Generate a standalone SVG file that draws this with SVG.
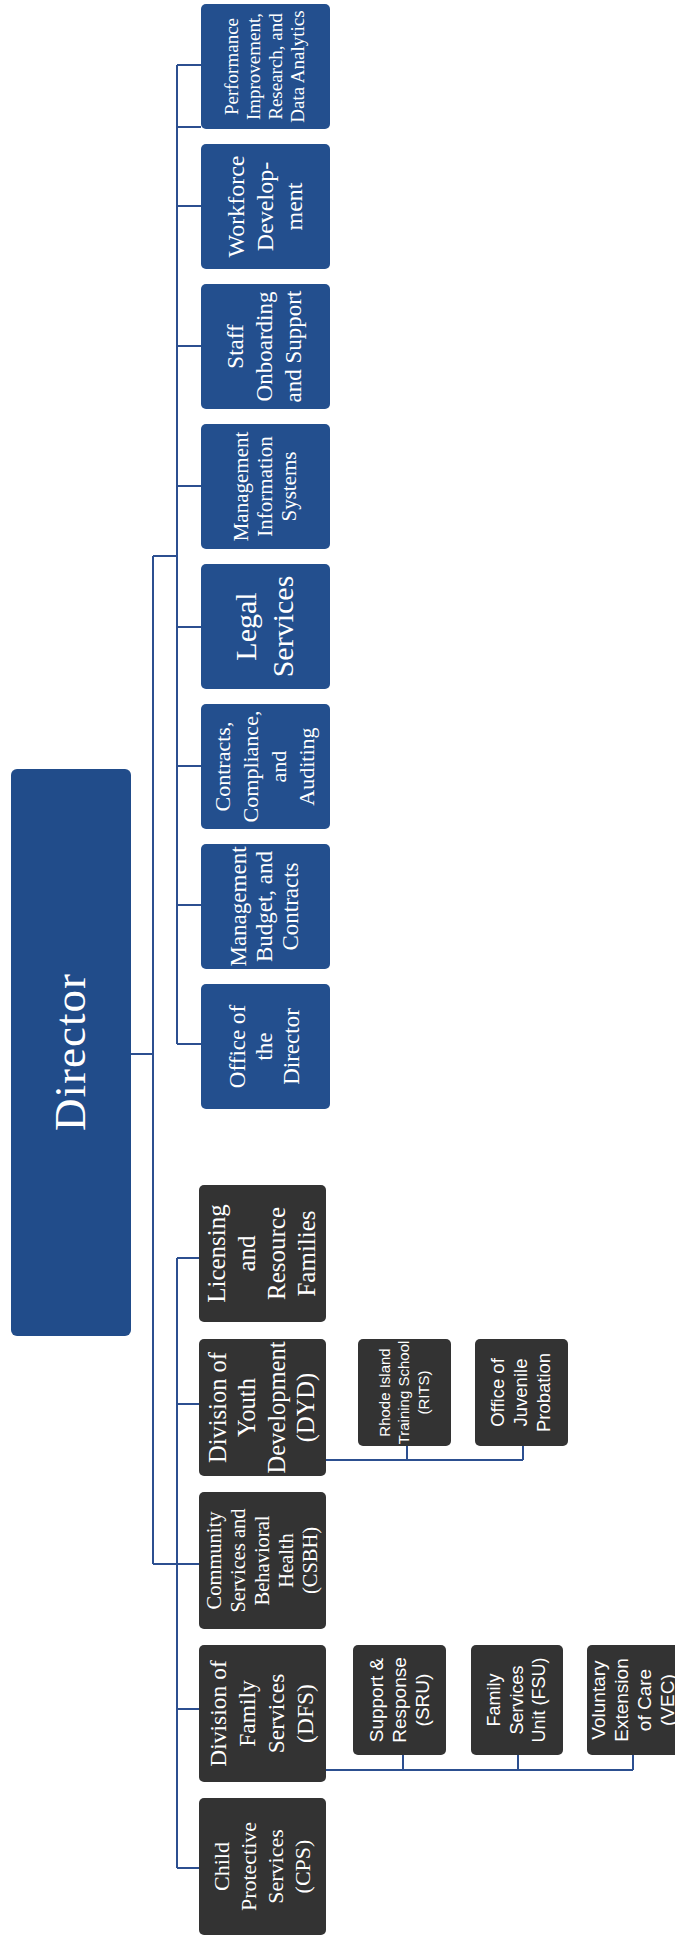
<svg xmlns="http://www.w3.org/2000/svg" width="675" height="1941" viewBox="0 0 675 1941">
<style>
.bg{fill:#ffffff}
.blue{fill:#234f8e}
.dir{fill:#214c8a}
.dark{fill:#333333}
.conn{stroke:#2c4f90;stroke-width:2;fill:none}
.serif{font-family:"Liberation Serif","Times New Roman",serif;fill:#ffffff;text-anchor:middle}
.sans{font-family:"Liberation Sans",Arial,sans-serif;fill:#ffffff;text-anchor:middle}
</style>
<rect class="bg" x="0" y="0" width="675" height="1941"/>
<g id="connectors">
<path class="conn" d="M131 1054H153M153 556V1564M153 556H177M177 65V1044"/>
<path class="conn" d="M177 65H201M177 127H201M177 206H201M177 346H201M177 486H201M177 627H201M177 766H201M177 905H201M177 1044H201"/>
<path class="conn" d="M153 1564H199M177 1258V1868M177 1258H199M177 1404H199M177 1709H199M177 1868H199"/>
<path class="conn" d="M326 1460H523M407 1446V1460M523 1446V1460"/>
<path class="conn" d="M326 1770H633M403 1755V1770M518 1755V1770M633 1755V1770"/>
</g>
<g id="director">
<rect class="dir" x="11" y="769" width="120" height="567" rx="6"/>
<text class="serif" font-size="45" letter-spacing="1" transform="rotate(-90 71 1052)" x="71" y="1066">Director</text>
</g>
<g id="performance">
<rect class="blue" x="201" y="4" width="129" height="125" rx="5"/>
<text class="serif" font-size="19" transform="rotate(-90 265.5 66.5)" x="265.5" y="39.2"><tspan x="265.5">Performance</tspan><tspan x="265.5" dy="22">Improvement,</tspan><tspan x="265.5" dy="22">Research, and</tspan><tspan x="265.5" dy="22">Data Analytics</tspan></text>
</g>
<g id="workforce">
<rect class="blue" x="201" y="144" width="129" height="125" rx="5"/>
<text class="serif" font-size="24" transform="rotate(-90 265.5 206.5)" x="265.5" y="184.7"><tspan x="265.5">Workforce</tspan><tspan x="265.5" dy="29">Develop-</tspan><tspan x="265.5" dy="29">ment</tspan></text>
</g>
<g id="staff">
<rect class="blue" x="201" y="284" width="129" height="125" rx="5"/>
<text class="serif" font-size="23" transform="rotate(-90 265.5 346.5)" x="265.5" y="324.4"><tspan x="265.5">Staff</tspan><tspan x="265.5" dy="29">Onboarding</tspan><tspan x="265.5" dy="29">and Support</tspan></text>
</g>
<g id="mis">
<rect class="blue" x="201" y="424" width="129" height="125" rx="5"/>
<text class="serif" font-size="21" transform="rotate(-90 265.5 486.5)" x="265.5" y="468.8"><tspan x="265.5">Management</tspan><tspan x="265.5" dy="24">Information</tspan><tspan x="265.5" dy="24">Systems</tspan></text>
</g>
<g id="legal">
<rect class="blue" x="201" y="564" width="129" height="125" rx="5"/>
<text class="serif" font-size="30" transform="rotate(-90 265.5 626.5)" x="265.5" y="617"><tspan x="265.5">Legal</tspan><tspan x="265.5" dy="37">Services</tspan></text>
</g>
<g id="contracts">
<rect class="blue" x="201" y="704" width="129" height="125" rx="5"/>
<text class="serif" font-size="22" transform="rotate(-90 265.5 766.5)" x="265.5" y="731.1"><tspan x="265.5">Contracts,</tspan><tspan x="265.5" dy="28">Compliance,</tspan><tspan x="265.5" dy="28">and</tspan><tspan x="265.5" dy="28">Auditing</tspan></text>
</g>
<g id="budget">
<rect class="blue" x="201" y="844" width="129" height="125" rx="5"/>
<text class="serif" font-size="23" transform="rotate(-90 265.5 906.5)" x="265.5" y="887.4"><tspan x="265.5">Management</tspan><tspan x="265.5" dy="26">Budget, and</tspan><tspan x="265.5" dy="26">Contracts</tspan></text>
</g>
<g id="office">
<rect class="blue" x="201" y="984" width="129" height="125" rx="5"/>
<text class="serif" font-size="23" transform="rotate(-90 265.5 1046.5)" x="265.5" y="1026.4"><tspan x="265.5">Office of</tspan><tspan x="265.5" dy="27">the</tspan><tspan x="265.5" dy="27">Director</tspan></text>
</g>
<g id="licensing">
<rect class="dark" x="199" y="1185" width="127" height="137" rx="5"/>
<text class="serif" font-size="25" transform="rotate(-90 262.5 1253.5)" x="262.5" y="1216"><tspan x="262.5">Licensing</tspan><tspan x="262.5" dy="30">and</tspan><tspan x="262.5" dy="30">Resource</tspan><tspan x="262.5" dy="30">Families</tspan></text>
</g>
<g id="dyd">
<rect class="dark" x="199" y="1339" width="127" height="137" rx="5"/>
<text class="serif" font-size="24.5" transform="rotate(-90 262.5 1407.5)" x="262.5" y="1370.6"><tspan x="262.5">Division of</tspan><tspan x="262.5" dy="29.5">Youth</tspan><tspan x="262.5" dy="29.5">Development</tspan><tspan x="262.5" dy="29.5">(DYD)</tspan></text>
</g>
<g id="csbh">
<rect class="dark" x="199" y="1492" width="127" height="137" rx="5"/>
<text class="serif" font-size="20.5" transform="rotate(-90 262.5 1560.5)" x="262.5" y="1518.6"><tspan x="262.5">Community</tspan><tspan x="262.5" dy="24">Services and</tspan><tspan x="262.5" dy="24">Behavioral</tspan><tspan x="262.5" dy="24">Health</tspan><tspan x="262.5" dy="24">(CSBH)</tspan></text>
</g>
<g id="dfs">
<rect class="dark" x="199" y="1645" width="127" height="137" rx="5"/>
<text class="serif" font-size="23.5" transform="rotate(-90 262.5 1713.5)" x="262.5" y="1677"><tspan x="262.5">Division of</tspan><tspan x="262.5" dy="29">Family</tspan><tspan x="262.5" dy="29">Services</tspan><tspan x="262.5" dy="29">(DFS)</tspan></text>
</g>
<g id="cps">
<rect class="dark" x="199" y="1798" width="127" height="137" rx="5"/>
<text class="serif" font-size="22" transform="rotate(-90 262.5 1866.5)" x="262.5" y="1832.6"><tspan x="262.5">Child</tspan><tspan x="262.5" dy="27">Protective</tspan><tspan x="262.5" dy="27">Services</tspan><tspan x="262.5" dy="27">(CPS)</tspan></text>
</g>
<g id="rits">
<rect class="dark" x="358" y="1339" width="93" height="107" rx="5"/>
<text class="sans" font-size="15" transform="rotate(-90 404.5 1392.5)" x="404.5" y="1377.8"><tspan x="404.5">Rhode Island</tspan><tspan x="404.5" dy="19.5">Training School</tspan><tspan x="404.5" dy="19.5">(RITS)</tspan></text>
</g>
<g id="ojp">
<rect class="dark" x="475" y="1339" width="93" height="107" rx="5"/>
<text class="sans" font-size="18.5" transform="rotate(-90 521.5 1392.5)" x="521.5" y="1375.4"><tspan x="521.5">Office of</tspan><tspan x="521.5" dy="23">Juvenile</tspan><tspan x="521.5" dy="23">Probation</tspan></text>
</g>
<g id="sru">
<rect class="dark" x="353" y="1645" width="93" height="110" rx="5"/>
<text class="sans" font-size="19" transform="rotate(-90 399.5 1700)" x="399.5" y="1683.1"><tspan x="399.5">Support &amp;</tspan><tspan x="399.5" dy="23">Response</tspan><tspan x="399.5" dy="23">(SRU)</tspan></text>
</g>
<g id="fsu">
<rect class="dark" x="471" y="1645" width="92" height="110" rx="5"/>
<text class="sans" font-size="18" transform="rotate(-90 517 1700)" x="517" y="1683.3"><tspan x="517">Family</tspan><tspan x="517" dy="22.5">Services</tspan><tspan x="517" dy="22.5">Unit (FSU)</tspan></text>
</g>
<g id="vec">
<rect class="dark" x="587" y="1645" width="100" height="110" rx="5"/>
<text class="sans" font-size="19" transform="rotate(-90 633 1700)" x="633" y="1671.6"><tspan x="633">Voluntary</tspan><tspan x="633" dy="23">Extension</tspan><tspan x="633" dy="23">of Care</tspan><tspan x="633" dy="23">(VEC)</tspan></text>
</g>
</svg>
